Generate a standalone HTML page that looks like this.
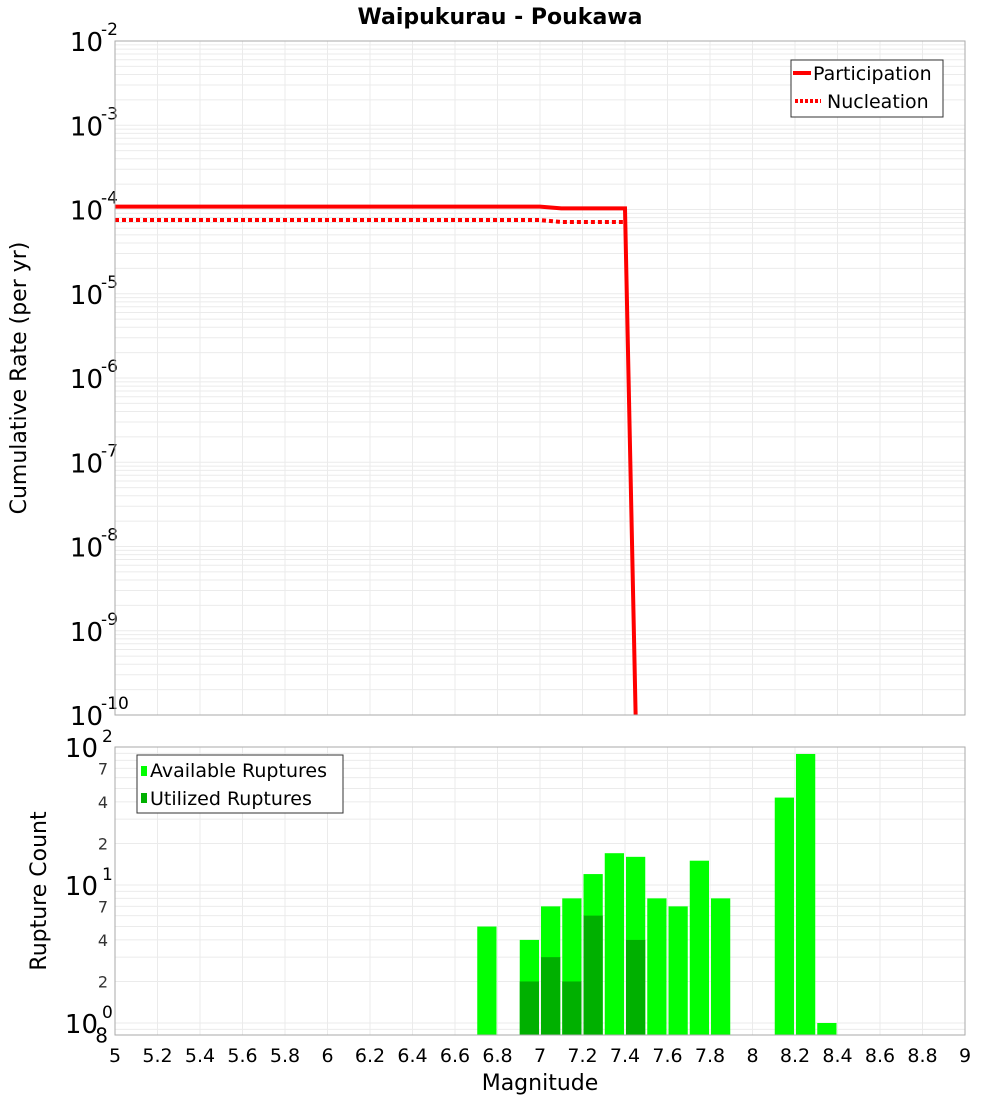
<!DOCTYPE html>
<html><head><meta charset="utf-8"><style>
body{margin:0;background:#fff;}
svg{display:block;font-family:"DejaVu Sans","Liberation Sans",sans-serif;}
</style></head><body>
<svg id="chart" width="1000" height="1100" viewBox="0 0 1000 1100" xmlns="http://www.w3.org/2000/svg">
<text x="500" y="24" text-anchor="middle" font-size="22" font-weight="bold">Waipukurau - Poukawa</text>
<g id="topPanel"></g><g id="botPanel"></g>
<text transform="translate(26,378) rotate(-90)" text-anchor="middle" font-size="22">Cumulative Rate (per yr)</text>
<text transform="translate(46,891) rotate(-90)" text-anchor="middle" font-size="22">Rupture Count</text>
<text x="540" y="1090" text-anchor="middle" font-size="22">Magnitude</text>
</svg>
<script>
// ---- data ----
const partMags = [5.0, 7.0, 7.1, 7.4, 7.45];
const partRates = [1.08e-4, 1.08e-4, 1.03e-4, 1.03e-4, 1e-10];
const nuclMags = [5.0, 7.0, 7.1, 7.39];
const nuclRates = [7.5e-5, 7.5e-5, 7.1e-5, 7.1e-5];
const binMags = [6.75, 6.95, 7.05, 7.15, 7.25, 7.35, 7.45, 7.55, 7.65, 7.75, 7.85, 8.15, 8.25, 8.35];
const availCounts = [5, 4, 7, 8, 12, 17, 16, 8, 7, 15, 8, 43, 89, 1];
const utilCounts = [0, 2, 3, 2, 6, 0, 4, 0, 0, 0, 0, 0, 0, 0];
const xTicks = ["5","5.2","5.4","5.6","5.8","6","6.2","6.4","6.6","6.8","7","7.2","7.4","7.6","7.8","8","8.2","8.4","8.6","8.8","9"];
const topDecades = [-2,-3,-4,-5,-6,-7,-8,-9,-10];

const NS="http://www.w3.org/2000/svg";
const L=115,R=965,TT=41,TB=715,BT=747,BB=1035;
const xs=m=>L+(m-5)*(R-L)/4;
const ysTop=v=>TT+(-2-Math.log10(v))*(TB-TT)/8;
const ysBot=v=>1023-Math.log10(v)*138;
function mk(p,tag,at,txt){const e=document.createElementNS(NS,tag);for(const k in at)e.setAttribute(k,at[k]);if(txt!==undefined)e.textContent=txt;p.appendChild(e);return e;}
const topG=document.getElementById('topPanel'),botG=document.getElementById('botPanel');

// top panel
let r=mk(topG,'rect',{x:L,y:TT,width:R-L,height:TB-TT,fill:'#fff',stroke:'none'});


for(let d=-10;d<-2;d++)for(let k=1;k<10;k++){const y=ysTop(k*Math.pow(10,d));const g=mk(topG,'line',{x1:L,x2:R,y1:y,y2:y,stroke:'#ebebeb','stroke-width':1});

}
xTicks.forEach(t=>{const x=xs(+t);const g=mk(topG,'line',{x1:x,x2:x,y1:TT,y2:TB,stroke:'#ebebeb','stroke-width':1});

});
topDecades.forEach(d=>{const y=ysTop(Math.pow(10,d));const t=mk(topG,'text',{x:103,y:y+10,'text-anchor':'end','font-size':26});


t.textContent='10';const s=mk(topG,'text',{x:101,y:y-6,'font-size':17},String(d));

});
const defs=mk(topG,'defs',{});const cp=mk(defs,'clipPath',{id:'clipTop'});mk(cp,'rect',{x:L,y:TT,width:R-L,height:TB-TT});
let pp=nuclMags.map((m,i)=>xs(m)+','+ysTop(nuclRates[i])).join(' ');
let nl=mk(topG,'polyline',{points:pp,fill:'none',stroke:'#f00','stroke-width':4,'stroke-dasharray':'4,3','clip-path':'url(#clipTop)'});


pp=partMags.map((m,i)=>xs(m)+','+ysTop(partRates[i])).join(' ');
let pl=mk(topG,'polyline',{points:pp,fill:'none',stroke:'#f00','stroke-width':4,'clip-path':'url(#clipTop)'});


let fr=mk(topG,'rect',{x:L,y:TT,width:R-L,height:TB-TT,fill:'none',stroke:'#aaa'});


let lg=mk(topG,'g',{});


mk(lg,'rect',{x:791,y:60,width:152,height:57,fill:'#fff',stroke:'#333'});
mk(lg,'line',{x1:793,x2:811,y1:73,y2:73,stroke:'#f00','stroke-width':4});
mk(lg,'text',{x:813,y:80,'font-size':19},'Participation');
mk(lg,'line',{x1:795,x2:821,y1:101,y2:101,stroke:'#f00','stroke-width':4,'stroke-dasharray':'3,2'});
mk(lg,'text',{x:827,y:108,'font-size':19},'Nucleation');

// bottom panel
for(let d=-1;d<2;d++)for(let k=1;k<10;k++){const v=k*Math.pow(10,d);const y=ysBot(v);if(y<BT||y>BB)continue;const g=mk(botG,'line',{x1:L,x2:R,y1:y,y2:y,stroke:'#ebebeb','stroke-width':1});

}
xTicks.forEach(t=>{const x=xs(+t);const g=mk(botG,'line',{x1:x,x2:x,y1:BT,y2:BB,stroke:'#ebebeb','stroke-width':1});


const lb=mk(botG,'text',{x:x,y:1062,'text-anchor':'middle','font-size':19},t);

});
binMags.forEach((m,i)=>{const x0=xs(m-0.05)+1,x1=xs(m+0.05)-1;
if(availCounts[i]>0){const y=ysBot(availCounts[i]);const b=mk(botG,'rect',{x:x0,y:y,width:x1-x0,height:BB-y,fill:'#00ff00'});

}
if(utilCounts[i]>0){const y=ysBot(utilCounts[i]);const b=mk(botG,'rect',{x:x0,y:y,width:x1-x0,height:BB-y,fill:'#00b000'});

}});
[[100,'10','2'],[10,'10','1'],[1,'10','0']].forEach(a=>{const y=ysBot(a[0]);const t=mk(botG,'text',{x:98,y:y+10,'text-anchor':'end','font-size':26},a[1]);


const s=mk(botG,'text',{x:102,y:y-5,'font-size':17},a[2]);

});
[[70,'7'],[40,'4'],[20,'2'],[7,'7'],[4,'4'],[2,'2'],[0.8,'8']].forEach(a=>{const y=ysBot(a[0]);const t=mk(botG,'text',{x:108,y:y+6,'text-anchor':'end','font-size':a[0]<1?20:16,fill:a[0]<1?'#000':'#333'},a[1]);

});
fr=mk(botG,'rect',{x:L,y:BT,width:R-L,height:BB-BT,fill:'none',stroke:'#aaa'});


lg=mk(botG,'g',{});


mk(lg,'rect',{x:137,y:755,width:206,height:58,fill:'#fff',stroke:'#333'});
mk(lg,'rect',{x:141,y:766,width:6,height:10,fill:'#00ff00'});
mk(lg,'text',{x:150,y:777,'font-size':19},'Available Ruptures');
mk(lg,'rect',{x:141,y:793,width:6,height:10,fill:'#00b000'});
mk(lg,'text',{x:150,y:805,'font-size':19},'Utilized Ruptures');
</script>
</body></html>
